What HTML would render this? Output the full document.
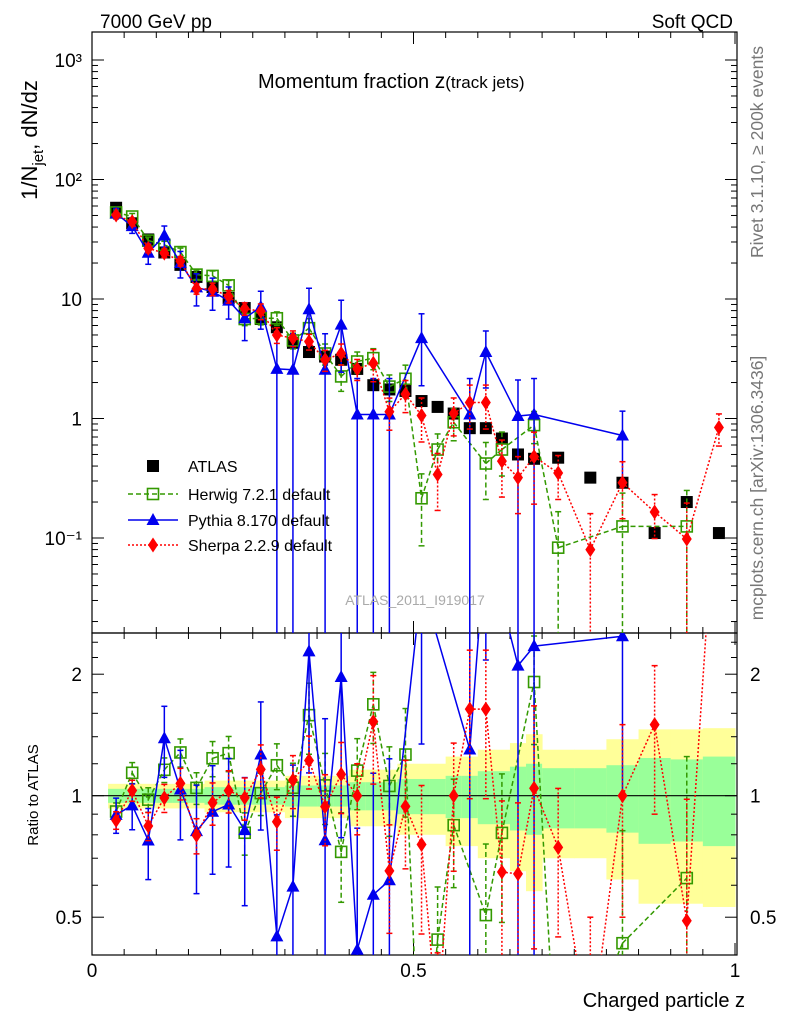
<!DOCTYPE html>
<html><head><meta charset="utf-8"><style>
html,body{margin:0;padding:0;background:#fff;width:786px;height:1024px;overflow:hidden;}
svg{display:block;font-family:"Liberation Sans",sans-serif;}
</style></head><body>
<svg id="c" width="786" height="1024" viewBox="0 0 786 1024">
<defs>
<clipPath id="cm"><rect x="92" y="32" width="645" height="601"/></clipPath>
<clipPath id="cr"><rect x="92" y="633" width="645" height="322"/></clipPath>
</defs>
<g id="bands" clip-path="url(#cr)"></g>
<g id="axes"></g>
<g id="mainMarks" clip-path="url(#cm)"></g>
<g id="ratioMarks" clip-path="url(#cr)"></g>
<text x="100" y="28" font-size="19">7000 GeV pp</text>
<text x="733" y="28" font-size="19" text-anchor="end">Soft QCD</text>
<text x="258" y="88" font-size="20">Momentum fraction <tspan font-size="21">z</tspan><tspan font-size="17">(track jets)</tspan></text>
<text transform="translate(37,140) rotate(-90)" font-size="22" text-anchor="middle">1/N<tspan font-size="15" dy="6">jet</tspan><tspan dy="-6">, dN/dz</tspan></text>
<text transform="translate(38,795) rotate(-90)" font-size="15" text-anchor="middle">Ratio to ATLAS</text>
<text x="745" y="1007" font-size="20" text-anchor="end">Charged particle z</text>
<text transform="translate(763,152) rotate(-90)" font-size="17.5" fill="#777" text-anchor="middle">Rivet 3.1.10, ≥ 200k events</text>
<text transform="translate(763,488) rotate(-90)" font-size="17.5" fill="#777" text-anchor="middle">mcplots.cern.ch [arXiv:1306.3436]</text>
<text x="415" y="605" font-size="14" fill="#aaa" text-anchor="middle">ATLAS_2011_I919017</text>
<g id="legend"></g>
</svg>
<script>
const zCenters=[0.0375,0.0625,0.0875,0.1125,0.1375,0.1625,0.1875,0.2125,0.2375,0.2625,0.2875,0.3125,0.3375,0.3625,0.3875,0.4125,0.4375,0.4625,0.4875,0.5125,0.5375,0.5625,0.5875,0.6125,0.6375,0.6625,0.6875,0.725,0.775,0.825,0.875,0.925,0.975];
const zHalfWidths=[0.0125,0.0125,0.0125,0.0125,0.0125,0.0125,0.0125,0.0125,0.0125,0.0125,0.0125,0.0125,0.0125,0.0125,0.0125,0.0125,0.0125,0.0125,0.0125,0.0125,0.0125,0.0125,0.0125,0.0125,0.0125,0.0125,0.0125,0.025,0.025,0.025,0.025,0.025,0.025];
const atlasValues=[58,43,31.5,24.5,19.3,15.3,12.6,10.2,8.4,6.8,5.8,4.3,3.6,3.3,3.1,2.6,1.9,1.75,1.7,1.4,1.25,1.1,0.83,0.83,0.68,0.5,0.46,0.47,0.32,0.29,0.11,0.2,0.11];
const atlasStatErr=[0.04,0.04,0.04,0.04,0.04,0.04,0.05,0.05,0.05,0.05,0.05,0.06,0.06,0.06,0.06,0.08,0.08,0.08,0.1,0.1,0.1,0.12,0.12,0.15,0.15,0.18,0.2,0.17,0.17,0.19,0.24,0.23,0.25];
const atlasTotErr=[0.07,0.07,0.07,0.07,0.07,0.07,0.09,0.09,0.09,0.09,0.09,0.12,0.12,0.12,0.12,0.16,0.16,0.16,0.2,0.2,0.2,0.25,0.25,0.3,0.3,0.35,0.42,0.3,0.3,0.38,0.46,0.46,0.47];
const herwigValues=[53,49,30.8,28.4,24.7,16,15.6,13,6.8,6.9,6.9,4.5,5.7,3.5,2.25,3.0,3.2,1.85,2.15,0.215,0.55,0.93,null,0.42,0.55,null,0.88,0.083,null,0.125,null,0.125,null];
const herwigErr=[0.05,0.06,0.07,0.07,0.08,0.09,0.1,0.1,0.12,0.12,0.13,0.15,0.2,0.2,0.25,0.2,0.2,0.25,0.3,0.6,0.35,0.3,0,0.5,0.4,0,0.3,1,0,0.9,0,1,0];
const pythiaValues=[52,40.7,24.4,34,20,12.5,11.5,9.7,6.9,8.6,2.6,2.56,8.2,2.56,6.1,1.08,1.08,1.08,null,4.7,null,null,1.08,3.6,null,1.05,1.08,null,null,0.72,null,null,null];
const pythiaErr=[0.1,0.13,0.2,0.2,0.25,0.3,0.3,0.3,0.35,0.35,1,1,0.5,1,0.6,1,1,1,0,0.6,0,0,1,0.5,0,1,1,0,0,0.6,0,0,0];
const sherpaValues=[50.4,44.3,26.5,24.2,20.7,12.2,12.1,10.5,8.3,7.9,5.0,4.7,4.4,3.1,3.5,2.6,2.9,1.14,1.6,1.06,0.34,1.1,1.36,1.36,0.44,0.32,0.48,0.35,0.08,0.29,0.165,0.098,0.84];
const sherpaErr=[0.05,0.06,0.08,0.08,0.09,0.1,0.12,0.12,0.12,0.15,0.15,0.15,0.15,0.2,0.2,0.2,0.3,0.3,0.3,0.4,0.5,0.35,0.4,0.4,0.5,0.5,0.6,0.4,1,0.5,0.4,1,0.3];
const yTickLabels=["10³","10²","10","1","10⁻¹"];
const yTickDecades=[3,2,1,0,-1];
const ratioTicks=[2,1,0.5];
const ratioTickLabels=["2","1","0.5"];
const xTicks=[0,0.5,1];
const xTickLabels=["0","0.5","1"];

const NS="http://www.w3.org/2000/svg";
function X(z){return 92+z*643;}
function Y(v){return 60+(3-Math.log10(v))*119.5;}
function R(r){return 795.7-Math.log2(r)*121.5;}
function mk(tag,at,parent){const e=document.createElementNS(NS,tag);for(const k in at)e.setAttribute(k,at[k]);parent.appendChild(e);return e;}
const axes=document.getElementById('axes');
const bands=document.getElementById('bands');
const mm=document.getElementById('mainMarks');
const rm=document.getElementById('ratioMarks');
const lg=document.getElementById('legend');

zCenters.forEach((z,i)=>{
  const x0=X(z-zHalfWidths[i]),x1=X(z+zHalfWidths[i]);
  const t=atlasTotErr[i],s=atlasStatErr[i];
  const y=mk('rect',{x:x0,y:R(1+t),width:x1-x0+0.5,height:Math.min(R(Math.max(1-t,0.05)),955)-R(1+t),fill:'#ffff99'},bands);
  
  
  const g=mk('rect',{x:x0,y:R(1+s),width:x1-x0+0.5,height:R(1-s)-R(1+s),fill:'#99ff99'},bands);
  
  
});
mk('line',{x1:92,x2:737,y1:R(1),y2:R(1),stroke:'#000','stroke-width':1.2},bands);

mk('rect',{x:92,y:32,width:645,height:601,fill:'none',stroke:'#000','stroke-width':1.2},axes);
mk('rect',{x:92,y:633,width:645,height:322,fill:'none',stroke:'#000','stroke-width':1.2},axes);
for(let d=-2;d<=3;d++){for(let m=1;m<=9;m++){const v=m*Math.pow(10,d);const y=Y(v);if(y<32||y>633)continue;const L=m==1?12:6;
 mk('line',{x1:92,x2:92+L,y1:y,y2:y,stroke:'#000'},axes);mk('line',{x1:737,x2:737-L,y1:y,y2:y,stroke:'#000'},axes);}}
yTickDecades.forEach((d,i)=>{const t=mk('text',{x:82,y:Y(Math.pow(10,d))+7,'font-size':19,'text-anchor':'end'},axes);t.textContent=yTickLabels[i];
 
 });
[0.5,0.6,0.7,0.8,0.9,1,1.2,1.4,1.6,1.8,2,2.2,2.4].forEach(r=>{const y=R(r);if(y<633||y>955)return;const L=(r==0.5||r==1||r==2)?12:6;
 mk('line',{x1:92,x2:92+L,y1:y,y2:y,stroke:'#000'},axes);mk('line',{x1:737,x2:737-L,y1:y,y2:y,stroke:'#000'},axes);});
ratioTicks.forEach((r,i)=>{const t=mk('text',{x:82,y:R(r)+7,'font-size':19,'text-anchor':'end'},axes);t.textContent=ratioTickLabels[i];
 
 
 const t2=mk('text',{x:750,y:R(r)+7,'font-size':19},axes);t2.textContent=ratioTickLabels[i];
 
 });
for(let k=0;k<=20;k++){const z=k*0.05;const x=X(z);const L=(k%10==0)?12:6;
 [[32,1],[633,-1],[633,1],[955,-1]].forEach(([y0,s])=>mk('line',{x1:x,x2:x,y1:y0,y2:y0+s*L,stroke:'#000'},axes));}
xTicks.forEach((z,i)=>{const t=mk('text',{x:X(z),y:977,'font-size':19,'text-anchor':'middle'},axes);t.textContent=xTickLabels[i];
 
 });

function marker(type,x,y,color,parent){
 let e;
 if(type=='sq') e=mk('rect',{x:x-6,y:y-6,width:12,height:12,fill:'#000'},parent);
 else if(type=='osq') e=mk('rect',{x:x-5.5,y:y-5.5,width:11,height:11,fill:'none',stroke:color,'stroke-width':1.6},parent);
 else if(type=='tri') e=mk('polygon',{points:`${x},${y-7} ${x-6.5},${y+5} ${x+6.5},${y+5}`,fill:color},parent);
 else e=mk('polygon',{points:`${x},${y-7.5} ${x-5},${y} ${x},${y+7.5} ${x+5},${y}`,fill:color},parent);
 return e;
}
function clampY(y){return Math.max(20,Math.min(960,y));}
// clip a segment to y range [a,b]
function clipSeg(x1,y1,x2,y2,a,b){
 let t0=0,t1=1;const dy=y2-y1;
 if(Math.abs(dy)<1e-9){if(y1<a||y1>b)return null;return [x1,y1,x2,y2];}
 let ta=(a-y1)/dy,tb=(b-y1)/dy;if(ta>tb){const q=ta;ta=tb;tb=q;}
 t0=Math.max(t0,ta);t1=Math.min(t1,tb);if(t0>=t1)return null;
 return [x1+(x2-x1)*t0,y1+dy*t0,x1+(x2-x1)*t1,y1+dy*t1];
}
const series=[
 {name:'herwig',vals:herwigValues,err:herwigErr,color:'#339900',dash:'5,3',m:'osq'},
 {name:'pythia',vals:pythiaValues,err:pythiaErr,color:'#0000ee',dash:'',m:'tri'},
 {name:'sherpa',vals:sherpaValues,err:sherpaErr,color:'#ff0000',dash:'2,2',m:'dia'}
];
zCenters.forEach((z,i)=>{const e=marker('sq',X(z),Y(atlasValues[i]),'#000',mm);
 
 });
series.forEach(s=>{
 [[mm,(v,i)=>Y(v),0,1000],[rm,(v,i)=>R(v/atlasValues[i]),600,1000]].forEach(([par,fy,ya,yb])=>{
  const g=mk('g',{},par);
  
  
  let pts=[];
  s.vals.forEach((v,i)=>{if(v==null)return;pts.push([X(zCenters[i]),fy(v,i)]);});
  let d='';
  for(let k=0;k+1<pts.length;k++){const c=clipSeg(pts[k][0],pts[k][1],pts[k+1][0],pts[k+1][1],ya,yb);
   if(c)d+=`M${c[0].toFixed(1)},${c[1].toFixed(1)}L${c[2].toFixed(1)},${c[3].toFixed(1)}`;}
  const pl=mk('path',{d:d,fill:'none',stroke:s.color,'stroke-width':1.5,'stroke-dasharray':s.dash},g);
  
  
  s.vals.forEach((v,i)=>{if(v==null)return;const x=X(zCenters[i]);const e=s.err[i];
   const yuRaw=fy(v*(1+e),i);
   const ydRaw=e>=0.99?960:fy(v*(1-e),i);
   const yu=clampY(yuRaw),yd=clampY(ydRaw);
   if(yd>yu){
   const eb=mk('line',{x1:x,x2:x,y1:yu,y2:yd,stroke:s.color,'stroke-width':1.5,'stroke-dasharray':s.dash},g);
   
   }
   if(yuRaw>20&&yuRaw<960)mk('line',{x1:x-3,x2:x+3,y1:yu,y2:yu,stroke:s.color,'stroke-width':1.5},g);
   if(e<0.99&&ydRaw<960&&ydRaw>20)mk('line',{x1:x-3,x2:x+3,y1:yd,y2:yd,stroke:s.color,'stroke-width':1.5},g);
   const yv=fy(v,i);
   if(yv>20&&yv<960){
    const m=marker(s.m,x,yv,s.color,g);
    
    
   }
  });
 });
});
const leg=[['ATLAS',null],['Herwig 7.2.1 default',series[0]],['Pythia 8.170 default',series[1]],['Sherpa 2.2.9 default',series[2]]];
const legY=[466,494,520,545];
leg.forEach(([lab,s],i)=>{const y=legY[i];const g=mk('g',{},lg);
 
 
 if(s){mk('line',{x1:128,x2:178,y1:y,y2:y,stroke:s.color,'stroke-width':1.5,'stroke-dasharray':s.dash},g);marker(s.m,153,y,s.color,g);}
 else marker('sq',153,y,'#000',g);
 const t=mk('text',{x:188,y:y+6,'font-size':16},g);t.textContent=lab;});
</script>
</body></html>
